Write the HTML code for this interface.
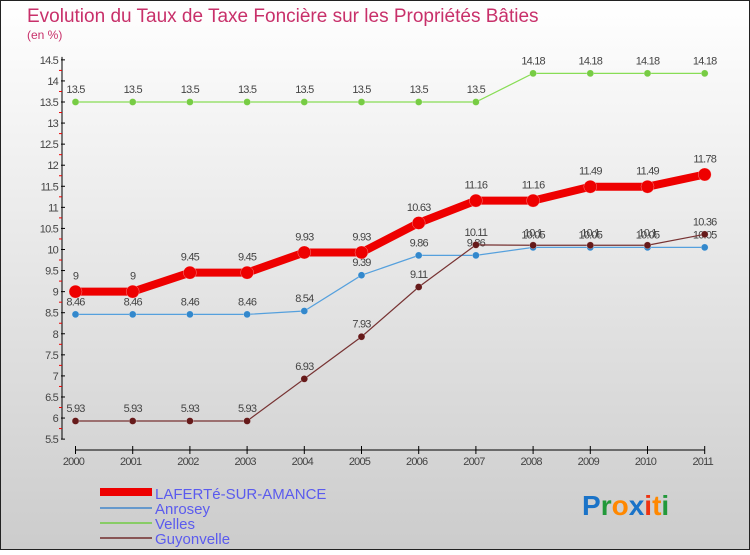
<!DOCTYPE html>
<html><head><meta charset="utf-8"><style>
body{margin:0;}
svg text{font-family:"Liberation Sans",sans-serif;}
</style></head><body>
<svg id="c" width="750" height="550" xmlns="http://www.w3.org/2000/svg">
<defs><linearGradient id="bg" x1="0" y1="0" x2="0" y2="1"><stop offset="0" stop-color="#ffffff"/><stop offset="1" stop-color="#cccccc"/></linearGradient></defs>
<rect x="0.5" y="0.5" width="749" height="549" fill="url(#bg)" stroke="#222"/>
<text x="27" y="22" font-size="19" fill="#c8306a">Evolution du Taux de Taxe Foncière sur les Propriétés Bâties</text>
<text x="27" y="39" font-size="12" fill="#c8306a">(en %)</text>
<g id="axes"></g><g id="series"></g>
<g>
<rect x="100" y="488" width="52" height="8" fill="#ee0000"/>
<text x="155" y="499" font-size="15" fill="#5b5bee">LAFERTé-SUR-AMANCE</text>
<rect x="100" y="507" width="52" height="2" fill="#6699cc"/>
<text x="155" y="514" font-size="15" fill="#5b5bee">Anrosey</text>
<rect x="100" y="522" width="52" height="2" fill="#88cc66"/>
<text x="155" y="529" font-size="15" fill="#5b5bee">Velles</text>
<rect x="100" y="537" width="52" height="2" fill="#885555"/>
<text x="155" y="544" font-size="15" fill="#5b5bee">Guyonvelle</text>
</g>
<g font-size="28" font-weight="bold">
<text x="582" y="515"><tspan fill="#1a73c8">P</tspan><tspan fill="#22993a">r</tspan><tspan fill="#ff8800">o</tspan><tspan fill="#1a73c8">x</tspan><tspan fill="#ee3311">i</tspan><tspan fill="#ff8800">t</tspan><tspan fill="#22993a">i</tspan></text>
</g>
</svg>
<script>
const years=["2000","2001","2002","2003","2004","2005","2006","2007","2008","2009","2010","2011"];
const yTicks=[5.5,6,6.5,7,7.5,8,8.5,9,9.5,10,10.5,11,11.5,12,12.5,13,13.5,14,14.5];
const laferte=[9,9,9.45,9.45,9.93,9.93,10.63,11.16,11.16,11.49,11.49,11.78];
const anrosey=[8.46,8.46,8.46,8.46,8.54,9.39,9.86,9.86,10.05,10.05,10.05,10.05];
const velles=[13.5,13.5,13.5,13.5,13.5,13.5,13.5,13.5,14.18,14.18,14.18,14.18];
const guyonvelle=[5.93,5.93,5.93,5.93,6.93,7.93,9.11,10.11,10.1,10.1,10.1,10.36];
const NS="http://www.w3.org/2000/svg";
const x=i=>75.5+i*57.2;
const y=v=>102+(13.5-v)*42.14;
function mk(tag,attrs,parent){const e=document.createElementNS(NS,tag);for(const k in attrs)e.setAttribute(k,attrs[k]);parent.appendChild(e);return e;}
const ax=document.getElementById('axes');
const AX=62;
let l=mk('line',{x1:AX,y1:y(14.5)-3,x2:AX,y2:y(5.5),stroke:'#000'},ax);


yTicks.forEach(v=>{
 const t=mk('line',{x1:AX-1,y1:y(v),x2:AX+3,y2:y(v),stroke:'#000'},ax);
 
 
 if(v<14.5){
 const r=mk('line',{x1:AX-3,y1:y(v+0.25),x2:AX,y2:y(v+0.25),stroke:'#e00'},ax);
 
 
 }
 const tx=mk('text',{x:AX-4,y:y(v)+4,'font-size':11,fill:'#444','text-anchor':'end','letter-spacing':'-0.8'},ax);
 tx.textContent=v;
 
 
});
l=mk('line',{x1:x(0),y1:450,x2:x(11),y2:450,stroke:'#000'},ax);


years.forEach((yr,i)=>{
 const t=mk('line',{x1:x(i),y1:446,x2:x(i),y2:454,stroke:'#000'},ax);
 
 
 const tx=mk('text',{x:x(i)-2,y:465,'font-size':11,fill:'#444','text-anchor':'middle','letter-spacing':'-0.8'},ax);
 tx.textContent=yr;
 
 
});
const sg=document.getElementById('series');
function series(name,data,color,w,r,dot,off){
 const g=mk('g',{},sg);
 
 
 const p=mk('polyline',{points:data.map((v,i)=>x(i)+','+y(v)).join(' '),fill:'none',stroke:color,'stroke-width':w},g);
 
 
 data.forEach((v,i)=>{
  const c=mk('circle',{cx:x(i),cy:y(v),r:r,fill:dot,stroke:'#fff','stroke-opacity':0.5,'stroke-width':0.5},g);
  
  
  const tx=mk('text',{x:x(i),y:y(v)-off,'font-size':11,fill:'#444','text-anchor':'middle','letter-spacing':'-0.8'},g);
  tx.textContent=v;
  
  
 });
}
series('velles',velles,'#88dd55',1.2,3.5,'#77cc44',9);
series('anrosey',anrosey,'#55a0dd',1.2,3.5,'#3388cc',9);
series('guyonvelle',guyonvelle,'#773333',1.2,3.5,'#661a1a',9);
series('laferte',laferte,'#ee0000',8,6.5,'#ee0000',12);
</script>
</body></html>
